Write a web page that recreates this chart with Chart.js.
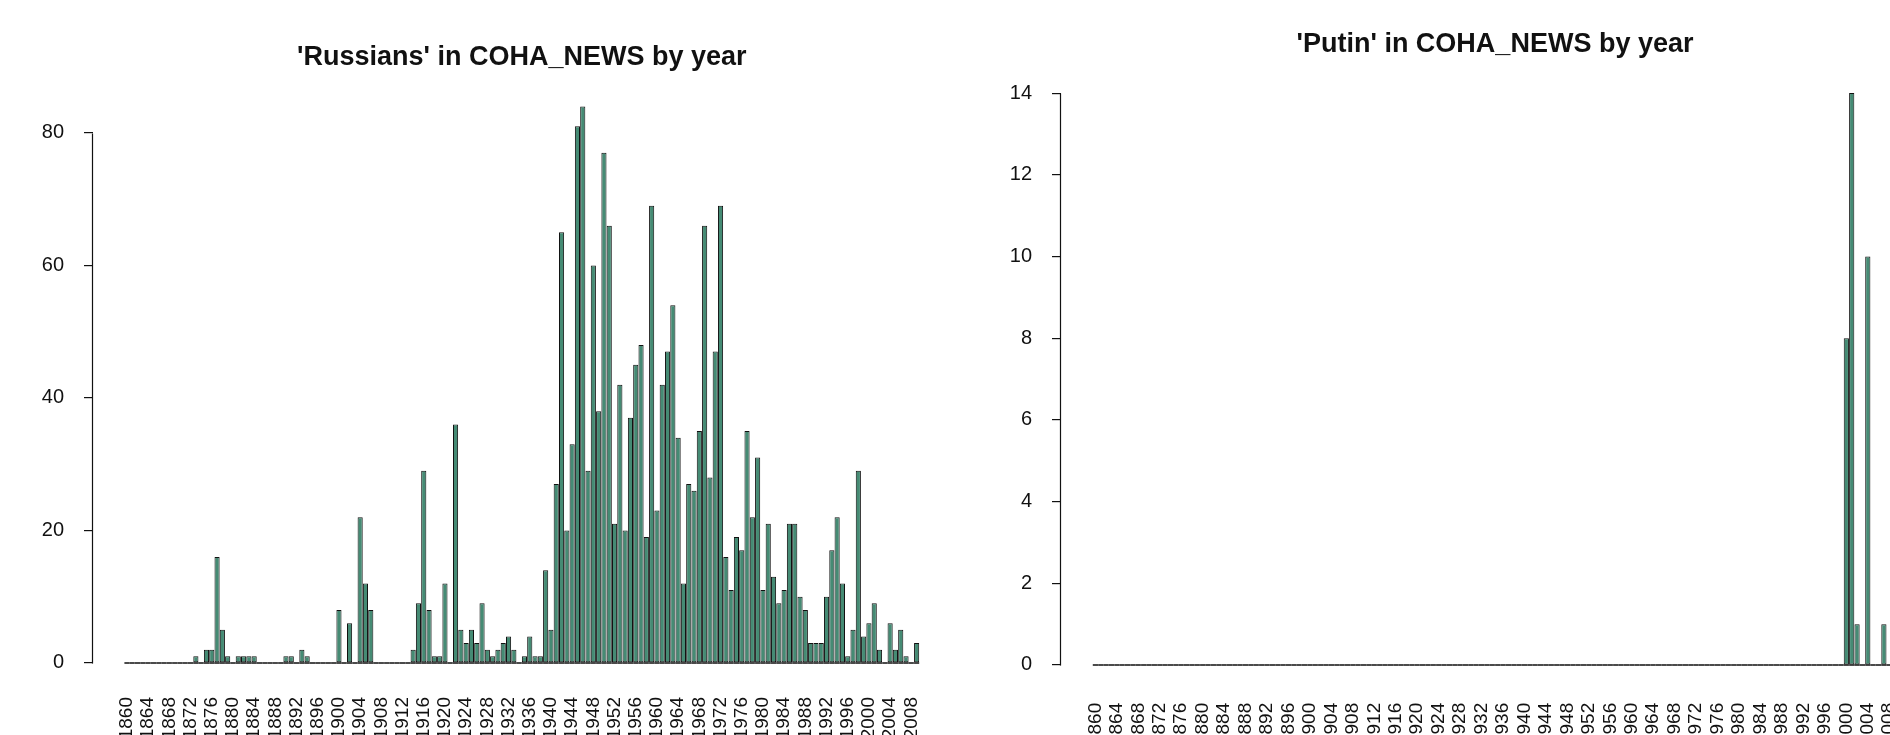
<!DOCTYPE html>
<html>
<head>
<meta charset="utf-8">
<script src="https://cdn.jsdelivr.net/npm/chart.js@4"></script>
<style>
  html, body { margin: 0; padding: 0; background: #fff; width: 1890px; height: 735px; overflow: hidden; }
  #russians { position: absolute; left: 0; top: 0; }
  #putin { position: absolute; left: 1001px; top: 0; }
</style>
</head>
<body>
<canvas id="russians" width="960" height="735"></canvas>
<canvas id="putin" width="940" height="735"></canvas>
<script>

// one bar per year, 1860..2009
const firstYear = 1860;
const lastYear = 2009;
const years = [];
for (let y = firstYear; y <= lastYear; y++) years.push(y);

// 'Russians' counts, one row per decade
const russians = [
  0, 0, 0, 0, 0, 0, 0, 0, 0, 0,        // 1860
  0, 0, 0, 1, 0, 2, 2, 16, 5, 1,       // 1870
  0, 1, 1, 1, 1, 0, 0, 0, 0, 0,        // 1880
  1, 1, 0, 2, 1, 0, 0, 0, 0, 0,        // 1890
  8, 0, 6, 0, 22, 12, 8, 0, 0, 0,      // 1900
  0, 0, 0, 0, 2, 9, 29, 8, 1, 1,       // 1910
  12, 0, 36, 5, 3, 5, 3, 9, 2, 1,      // 1920
  2, 3, 4, 2, 0, 1, 4, 1, 1, 14,       // 1930
  5, 27, 65, 20, 33, 81, 84, 29, 60, 38, // 1940
  77, 66, 21, 42, 20, 37, 45, 48, 19, 69, // 1950
  23, 42, 47, 54, 34, 12, 27, 26, 35, 66, // 1960
  28, 47, 69, 16, 11, 19, 17, 35, 22, 31, // 1970
  11, 21, 13, 9, 11, 21, 21, 10, 8, 3,  // 1980
  3, 3, 10, 17, 22, 12, 1, 5, 29, 4,    // 1990
  6, 9, 2, 0, 6, 2, 5, 1, 0, 3          // 2000
];

// 'Putin' counts
const putin = [
  0, 0, 0, 0, 0, 0, 0, 0, 0, 0,
  0, 0, 0, 0, 0, 0, 0, 0, 0, 0,
  0, 0, 0, 0, 0, 0, 0, 0, 0, 0,
  0, 0, 0, 0, 0, 0, 0, 0, 0, 0,
  0, 0, 0, 0, 0, 0, 0, 0, 0, 0,
  0, 0, 0, 0, 0, 0, 0, 0, 0, 0,
  0, 0, 0, 0, 0, 0, 0, 0, 0, 0,
  0, 0, 0, 0, 0, 0, 0, 0, 0, 0,
  0, 0, 0, 0, 0, 0, 0, 0, 0, 0,
  0, 0, 0, 0, 0, 0, 0, 0, 0, 0,
  0, 0, 0, 0, 0, 0, 0, 0, 0, 0,
  0, 0, 0, 0, 0, 0, 0, 0, 0, 0,
  0, 0, 0, 0, 0, 0, 0, 0, 0, 0,
  0, 0, 0, 0, 0, 0, 0, 0, 0, 0,
  8, 14, 1, 0, 10, 0, 0, 1, 0, 0        // 2000
];

const xTickYears = [1860, 1864, 1868, 1872, 1876, 1880, 1884, 1888, 1892, 1896,
  1900, 1904, 1908, 1912, 1916, 1920, 1924, 1928, 1932, 1936, 1940, 1944, 1948,
  1952, 1956, 1960, 1964, 1968, 1972, 1976, 1980, 1984, 1988, 1992, 1996, 2000,
  2004, 2008];
const russiansTicks = [0, 20, 40, 60, 80];
const putinTicks = [0, 2, 4, 6, 8, 10, 12, 14];

Chart.defaults.font.family = "'Liberation Sans', Arial, sans-serif";
Chart.defaults.color = '#111';

// R barplot look: zero bars still show their border as a dash, axis line only spans the ticks
const rStyle = {
  id: 'rStyle',
  afterDatasetsDraw(chart) {
    const ctx = chart.ctx;
    const yScale = chart.scales.y;
    const y0 = Math.round(yScale.getPixelForValue(0));
    ctx.save();
    ctx.strokeStyle = '#111';
    ctx.lineWidth = 1.6;
    ctx.beginPath();
    chart.getDatasetMeta(0).data.forEach(function(bar) {
      ctx.moveTo(bar.x - bar.width / 2, y0);
      ctx.lineTo(bar.x + bar.width / 2, y0);
    });
    ctx.stroke();

    const t = yScale.ticks;
    const ax = Math.round(chart.chartArea.left) - 0.5;
    ctx.lineWidth = 1.2;
    ctx.beginPath();
    ctx.moveTo(ax, Math.round(yScale.getPixelForValue(t[0].value)) + 0.5);
    ctx.lineTo(ax, Math.round(yScale.getPixelForValue(t[t.length - 1].value)) + 0.5);
    ctx.stroke();
    ctx.restore();
  }
};

function barChart(id, title, values, yTicks, yAxisWidth, rightPad, titleTop, titleBottom, xAxisHeight, xPad) {
  // R style limits: bars of width 1 with 0.2 space, 4% padding around
  const n = values.length;
  const xl = 0.2 - 0.04 * (1.2 * n - 0.2);
  const xr = 1.2 * n + 0.04 * (1.2 * n - 0.2);
  const top = Math.max(...values);
  const lo = -0.01 * top;
  const span = top - lo;

  return new Chart(document.getElementById(id), {
    type: 'bar',
    data: {
      datasets: [{
        data: years.map((yr, i) => ({ x: yr, y: values[i] })),
        backgroundColor: '#458B74',
        borderColor: '#111',
        borderWidth: 1,
        borderSkipped: false,
        categoryPercentage: 1,
        barPercentage: 0.97
      }]
    },
    options: {
      responsive: false,
      animation: false,
      layout: { padding: { left: 0, right: rightPad, top: 0, bottom: 0 } },
      plugins: {
        legend: { display: false },
        tooltip: { enabled: false },
        title: {
          display: true,
          text: title,
          fullSize: false,
          color: '#111',
          font: { size: 27, weight: 'bold' },
          padding: { top: titleTop, bottom: titleBottom }
        }
      },
      scales: {
        x: {
          type: 'linear',
          offset: false,
          min: firstYear + (xl - 0.7) / 1.2,
          max: firstYear + (xr - 0.7) / 1.2,
          grid: { display: false, drawTicks: false, offset: false },
          border: { display: false },
          ticks: {
            autoSkip: false,
            minRotation: 90,
            maxRotation: 90,
            padding: xPad,
            font: { size: 19 },
            callback: function(value) { return String(value); }
          },
          afterBuildTicks: function(s) { s.ticks = xTickYears.map(v => ({ value: v })); },
          afterFit: function(s) { s.height = xAxisHeight; }
        },
        y: {
          min: lo - 0.04 * span,
          max: top + 0.04 * span,
          grid: { drawOnChartArea: false, drawTicks: true, tickLength: 9, color: '#111', lineWidth: 1.2 },
          border: { display: false },
          ticks: { padding: 20, font: { size: 20 } },
          afterBuildTicks: function(s) { s.ticks = yTicks.map(v => ({ value: v })); },
          afterFit: function(s) { s.width = yAxisWidth; }
        }
      }
    },
    plugins: [rStyle]
  });
}

barChart('russians', "'Russians' in COHA_NEWS by year", russians, russiansTicks, 93, 9.4, 41.4, 10.2, 44, 6);
barChart('putin', "'Putin' in COHA_NEWS by year", putin, putinTicks, 60, 12, 28.8, 8.8, 41.2, 9);

</script>
</body>
</html>
